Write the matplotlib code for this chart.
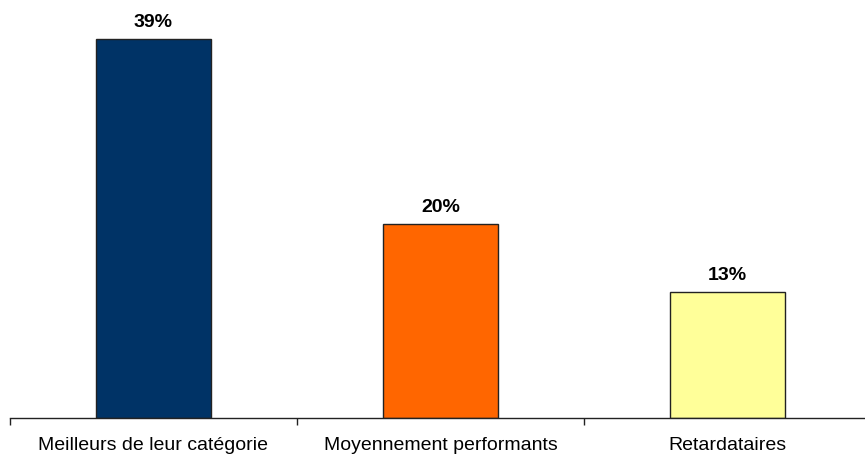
import matplotlib.pyplot as plt
import numpy as np

plt.rcParams['font.family'] = ['Liberation Sans', 'DejaVu Sans']

categories = ["Meilleurs de leur catégorie", "Moyennement performants", "Retardataires"]
values = [39, 20, 13]
colors = ["#003366", "#FF6600", "#FFFF99"]

W, H = 865, 457
fig = plt.figure(figsize=(W / 100, H / 100), dpi=100)
# axes placed in pixel coordinates (left 10, baseline at y=418)
ax = fig.add_axes([10 / W, (H - 418) / H, 861 / W, 408 / H])

x = np.arange(len(categories))
ax.bar(x, values, width=0.4, color=colors, edgecolor="#222222", linewidth=1)

for xi, v in zip(x, values):
    ax.text(xi, v + 0.8, f"{v}%", ha="center", va="bottom",
            fontsize=14, fontweight="bold")

ax.set_xlim(-0.5, 2.5)
ax.set_ylim(0, 42)
ax.set_yticks([])
ax.set_xticks(x)
ax.set_xticklabels(categories, fontsize=14)
ax.set_xticks([-0.5, 0.5, 1.5], minor=True)
ax.tick_params(axis="x", which="major", length=0, pad=14)
ax.tick_params(axis="x", which="minor", length=5, width=1, color="#222222")

for s in ["top", "right", "left"]:
    ax.spines[s].set_visible(False)
ax.spines["bottom"].set_color("#222222")
ax.spines["bottom"].set_linewidth(1)

fig.savefig("out.png", dpi=100)
